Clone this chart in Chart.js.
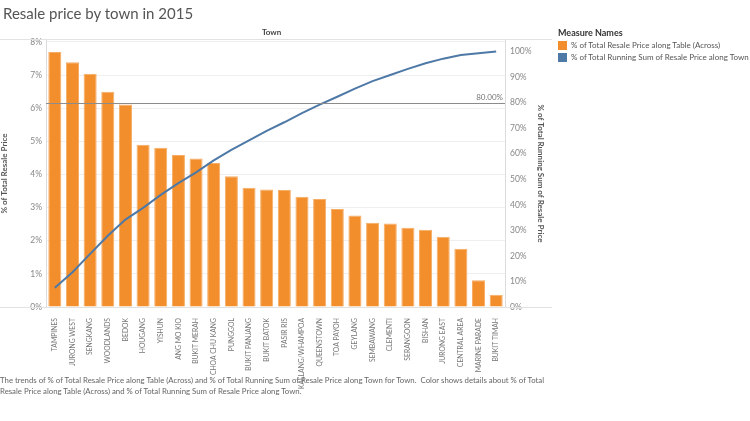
<!DOCTYPE html>
<html>
<head>
<meta charset="utf-8">
<script src="https://cdn.jsdelivr.net/npm/chart.js@4/dist/chart.umd.min.js"></script>
<style>
  body { margin:0; width:750px; height:421px; background:#fff; font-family: Lato, "Open Sans", sans-serif; position:relative; overflow:hidden; }
  #wrap { position:absolute; left:0; top:0; width:750px; height:421px; }
  #title { position:absolute; left:3px; top:4px; font-size:15px; color:#555; }
  #town { position:absolute; left:262px; top:27px; font-size:8px; color:#444; font-weight:bold; }
  #legend { position:absolute; left:558px; top:27px; font-size:8px; color:#555; }
  #legend .hd { font-size:9px; color:#333; font-weight:bold; margin-bottom:1px; }
  #legend .it { display:flex; align-items:center; height:12px; }
  #legend .sw { width:9px; height:9px; margin-right:4px; }
  #foot { position:absolute; left:0; top:375px; width:565px; font-size:7.8px; line-height:11px; color:#666; }
</style>
</head>
<body>
<div id="wrap"><canvas id="c" width="750" height="421"></canvas></div>
<div id="title">Resale price by town in 2015</div>
<div id="town">Town</div>
<div id="legend">
  <div class="hd">Measure Names</div>
  <div class="it"><span class="sw" style="background:#f28e2b"></span>% of Total Resale Price along Table (Across)</div>
  <div class="it"><span class="sw" style="background:#4e79a7"></span>% of Total Running Sum of Resale Price along Town</div>
</div>
<div id="foot">The trends of % of Total Resale Price along Table (Across) and % of Total Running Sum of Resale Price along Town for Town.&nbsp; Color shows details about % of Total Resale Price along Table (Across) and % of Total Running Sum of Resale Price along Town.</div>
<script>
const towns = ['TAMPINES','JURONG WEST','SENGKANG','WOODLANDS','BEDOK','HOUGANG','YISHUN','ANG MO KIO','BUKIT MERAH','CHOA CHU KANG','PUNGGOL','BUKIT PANJANG','BUKIT BATOK','PASIR RIS','KALLANG/WHAMPOA','QUEENSTOWN','TOA PAYOH','GEYLANG','SEMBAWANG','CLEMENTI','SERANGOON','BISHAN','JURONG EAST','CENTRAL AREA','MARINE PARADE','BUKIT TIMAH'];
const pctTotal = [7.70,7.39,7.04,6.50,6.11,4.90,4.81,4.59,4.48,4.35,3.95,3.60,3.55,3.53,3.33,3.26,2.96,2.76,2.54,2.52,2.39,2.33,2.12,1.76,0.81,0.37];
const runningSum = [7.5,13.6,20.8,27.9,34.2,38.8,43.9,48.5,52.7,57.4,61.5,65.2,68.9,72.3,75.9,79.2,82.3,85.5,88.4,90.8,93.2,95.4,97.2,98.6,99.3,100];
const refValue = 80;

const grey = '#888';

const frame = {
  id: 'frame',
  beforeDatasetsDraw(chart) {
    const {ctx, chartArea: a} = chart;
    ctx.save();
    ctx.strokeStyle = '#e2e2e2';
    ctx.lineWidth = 1;
    ctx.beginPath();
    ctx.moveTo(0, a.top - 0.5); ctx.lineTo(a.right + 47, a.top - 0.5);
    ctx.moveTo(0, a.bottom + 0.5); ctx.lineTo(a.right + 47, a.bottom + 0.5);
    ctx.stroke();
    ctx.restore();
  },
  afterDatasetsDraw(chart) {
    const {ctx, chartArea: a} = chart;
    const y = Math.round(chart.scales.y1.getPixelForValue(refValue)) + 0.5;
    ctx.save();
    ctx.strokeStyle = '#8c8c8c';
    ctx.lineWidth = 1;
    ctx.beginPath();
    ctx.moveTo(a.left, y); ctx.lineTo(a.right, y);
    ctx.stroke();
    ctx.fillStyle = '#777';
    ctx.font = '8px Lato, sans-serif';
    ctx.textAlign = 'right';
    ctx.textBaseline = 'bottom';
    ctx.fillText(refValue.toFixed(2) + '%', a.right - 2, y - 2);
    ctx.restore();
  }
};

new Chart(document.getElementById('c'), {
  data: {
    labels: towns,
    datasets: [
      { type:'line', label:'% of Total Running Sum of Resale Price along Town', data: runningSum, yAxisID:'y1',
        borderColor:'#4e79a7', borderWidth:2, pointRadius:0, tension:0, order:0 },
      { type:'bar', label:'% of Total Resale Price along Table (Across)', data: pctTotal, yAxisID:'y',
        backgroundColor:'#f28e2b', borderColor:'#f6ad66', borderWidth:1, barPercentage:0.74, categoryPercentage:1, order:1 }
    ]
  },
  options: {
    responsive:false, animation:false,
    layout: { padding: { top:40, left:0, right:205, bottom:24 } },
    plugins: { legend:{ display:false }, tooltip:{ enabled:false } },
    scales: {
      x: {
        grid:{ display:false }, border:{ display:false },
        ticks:{ minRotation:90, maxRotation:90, autoSkip:false, color:'#777', font:{ size:6.8, family:'Lato' }, padding:3 },
        afterFit(s){ s.height = 90; }
      },
      y: {
        position:'left', min:0, max:8.06,
        grid:{ color:'#efefef', drawTicks:false }, border:{ color:'#dcdcdc' },
        ticks:{ stepSize:1, includeBounds:false, color:grey, font:{ size:8.5, family:'Lato' }, padding:4, callback:v => v + '%' },
        title:{ display:true, text:'% of Total Resale Price', color:'#555', font:{ size:8, weight:'bold', family:'Lato' }, padding:0 },
        afterFit(s){ s.width = 46; }
      },
      y1: {
        position:'right', min:0, max:104.5,
        grid:{ display:false, drawTicks:false }, border:{ color:'#dcdcdc' },
        ticks:{ stepSize:10, includeBounds:false, color:grey, font:{ size:8.5, family:'Lato' }, padding:5, callback:v => v + '%' },
        title:{ display:true, text:'% of Total Running Sum of Resale Price', color:'#555', font:{ size:8, weight:'bold', family:'Lato' }, padding:0 },
        afterFit(s){ s.width = 40; }
      }
    }
  },
  plugins:[frame]
});
</script>
</body>
</html>
